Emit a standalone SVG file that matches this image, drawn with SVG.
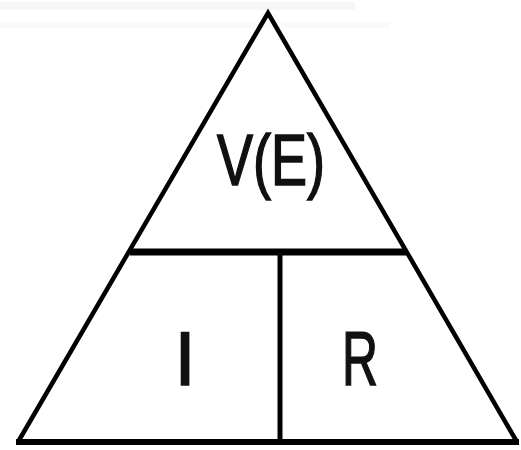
<svg xmlns="http://www.w3.org/2000/svg" width="521" height="450" viewBox="0 0 521 450">
<style>
.edge{fill:none;stroke:#000;stroke-linejoin:miter;}
.lbl{font-family:"Liberation Sans",Arial,sans-serif;fill:#111;stroke:#111;stroke-width:1.6;}
</style>
<rect width="521" height="450" fill="#fff"/>
<rect x="0" y="2" width="355" height="8" fill="#f7f7f7"/>
<rect x="0" y="22" width="390" height="6" fill="#fafafa"/>
<g id="connectors">
<polyline class="edge" points="18,442 268,13 517,442" stroke-width="4.5"/>
<line class="edge" x1="16" y1="442" x2="519" y2="442" stroke-width="6"/>
<line class="edge" x1="130" y1="252" x2="406" y2="252" stroke-width="7"/>
<line class="edge" x1="280" y1="252" x2="280" y2="442" stroke-width="5"/>
</g>
<g id="node-V"><text class="lbl" x="217" y="185" font-size="72" textLength="108" lengthAdjust="spacingAndGlyphs">V(E)</text></g>
<g id="node-I"><text class="lbl" x="185" y="385" font-size="76" text-anchor="middle">I</text></g>
<g id="node-R"><text class="lbl" x="342" y="385" font-size="76" textLength="36" lengthAdjust="spacingAndGlyphs">R</text></g>
</svg>
